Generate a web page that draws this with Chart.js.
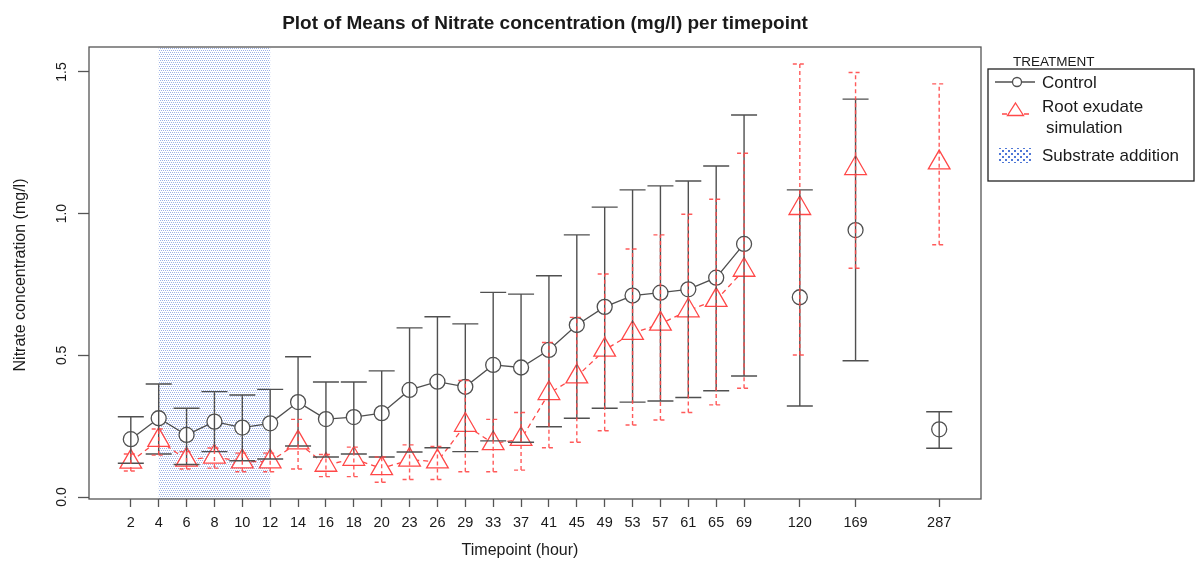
<!DOCTYPE html>
<html>
<head>
<meta charset="utf-8">
<script src="https://cdn.jsdelivr.net/npm/chart.js@4.4.1/dist/chart.umd.min.js"></script>
<style>
  html, body { margin: 0; padding: 0; background: #fff; }
  canvas { display: block; }
</style>
</head>
<body>
<canvas id="nitrateChart" width="1196" height="565"></canvas>
<script>
// x axis categories ('' = empty slot on the axis, as in the original plot)
const timepoints = [
  "", "2", "4", "6", "8", "10", "12", "14", "16", "18", "20", "23", "26", "29",
  "33", "37", "41", "45", "49", "53", "57", "61", "65", "69",
  "", "120", "", "169", "", "", "287", "",
];

// Control (circles)
const controlMean = [
  0.204, 0.278, 0.219, 0.266, 0.245, 0.26, 0.335, 0.275, 0.282, 0.296, 0.378,
  0.407, 0.389, 0.466, 0.457, 0.519, 0.607, 0.671, 0.711, 0.721, 0.733, 0.774,
  0.893, 0.705, 0.942, 0.239,
];
const controlUpper = [
  0.283, 0.399, 0.313, 0.372, 0.36, 0.38, 0.495, 0.406, 0.406, 0.445, 0.597,
  0.636, 0.611, 0.722, 0.716, 0.781, 0.925, 1.023, 1.084, 1.098, 1.115, 1.168,
  1.348, 1.084, 1.404, 0.301,
];
const controlLower = [
  0.119, 0.152, 0.115, 0.16, 0.128, 0.134, 0.18, 0.141, 0.152, 0.141, 0.159,
  0.174, 0.16, 0.198, 0.193, 0.248, 0.278, 0.313, 0.335, 0.339, 0.351, 0.375,
  0.427, 0.321, 0.481, 0.172,
];

// Root exudate simulation (triangles)
const rootMean = [
  0.124, 0.201, 0.131, 0.142, 0.125, 0.125, 0.192, 0.113, 0.134, 0.101, 0.131,
  0.125, 0.254, 0.189, 0.204, 0.366, 0.425, 0.519, 0.578, 0.611, 0.658, 0.695,
  0.801, 1.019, 1.16, 1.18,
];
const rootUpper = [
  0.152, 0.24, 0.16, 0.173, 0.155, 0.155, 0.274, 0.15, 0.176, 0.141, 0.184,
  0.178, 0.411, 0.274, 0.298, 0.545, 0.634, 0.787, 0.875, 0.925, 0.998, 1.051,
  1.213, 1.528, 1.498, 1.458,
];
const rootLower = [
  0.092, 0.148, 0.099, 0.102, 0.089, 0.089, 0.099, 0.072, 0.072, 0.052, 0.062,
  0.062, 0.089, 0.089, 0.095, 0.174, 0.193, 0.234, 0.254, 0.272, 0.298, 0.325,
  0.384, 0.501, 0.807, 0.89,
];

const yTicks = [0, 0.5, 1.0, 1.5];
const yTickLabels = ["0.0", "0.5", "1.0", "1.5"];

// Substrate addition period
const substrateStart = "4";
const substrateEnd = "12";

const FONT = "'Liberation Sans', Arial, sans-serif";
const BLACK = "#505050";
const RED = "#ff4848";

// spread the values over the category slots, leaving nulls in empty ones
function spread(values) {
  let k = 0;
  return timepoints.map((t) => (t === "" ? null : values[k++]));
}

function makePattern(size, dots, color) {
  const c = document.createElement("canvas");
  c.width = size;
  c.height = size;
  const g = c.getContext("2d");
  g.fillStyle = color;
  dots.forEach(([x, y, w, h]) => g.fillRect(x, y, w, h));
  return g.createPattern(c, "repeat");
}

const shadePattern = makePattern(
  4,
  [[0, 0, 1, 1], [2, 0, 1, 1], [1, 2, 1, 1], [3, 2, 1, 1]],
  "rgba(115,145,220,0.7)"
);
const legendPattern = makePattern(
  6,
  [[0, 0, 2, 2], [3, 3, 2, 2]],
  "rgb(80,120,215)"
);

// shaded substrate addition period
const substratePlugin = {
  id: "substrate",
  beforeDatasetsDraw(chart) {
    const { ctx, chartArea, scales } = chart;
    const x1 = scales.x.getPixelForValue(timepoints.indexOf(substrateStart));
    const x2 = scales.x.getPixelForValue(timepoints.indexOf(substrateEnd));
    ctx.save();
    ctx.fillStyle = shadePattern;
    ctx.fillRect(x1, chartArea.top, x2 - x1, chartArea.bottom - chartArea.top);
    ctx.restore();
  },
};

// error bars
const errorBarPlugin = {
  id: "errorBars",
  afterDatasetsDraw(chart) {
    const { ctx, scales } = chart;
    const drawBars = (upper, lower, color, cap, dash) => {
      const up = spread(upper);
      const lo = spread(lower);
      ctx.save();
      ctx.strokeStyle = color;
      ctx.lineWidth = 1.4;
      ctx.setLineDash(dash);
      up.forEach((u, i) => {
        if (u === null) return;
        const x = scales.x.getPixelForValue(i);
        const yu = scales.y.getPixelForValue(u);
        const yl = scales.y.getPixelForValue(lo[i]);
        ctx.beginPath();
        ctx.moveTo(x, yl);
        ctx.lineTo(x, yu);
        ctx.moveTo(x - cap, yu);
        ctx.lineTo(x + cap, yu);
        ctx.moveTo(x - cap, yl);
        ctx.lineTo(x + cap, yl);
        ctx.stroke();
      });
      ctx.restore();
    };
    drawBars(controlUpper, controlLower, BLACK, 13, []);
    drawBars(rootUpper, rootLower, "rgba(255,72,72,0.9)", 7, [4, 3]);
  },
};

// frame, rotated y labels, titles and legend
const framePlugin = {
  id: "frame",
  afterDraw(chart) {
    const { ctx, chartArea, scales } = chart;
    const { left, right, top, bottom } = chartArea;
    ctx.save();

    ctx.strokeStyle = "#555";
    ctx.lineWidth = 1.3;
    ctx.strokeRect(left, top, right - left, bottom - top);

    ctx.fillStyle = "#1a1a1a";
    ctx.textAlign = "center";
    ctx.textBaseline = "middle";

    // y tick labels
    ctx.font = "14px " + FONT;
    yTicks.forEach((v, i) => {
      const y = scales.y.getPixelForValue(v);
      ctx.save();
      ctx.translate(62, y);
      ctx.rotate(-Math.PI / 2);
      ctx.fillText(yTickLabels[i], 0, 0);
      ctx.restore();
    });

    // y axis title
    ctx.save();
    ctx.translate(21, (top + bottom) / 2 + 2);
    ctx.rotate(-Math.PI / 2);
    ctx.font = "16px " + FONT;
    ctx.fillText("Nitrate concentration (mg/l)", 0, 0);
    ctx.restore();

    // x axis title
    ctx.font = "16px " + FONT;
    ctx.fillText("Timepoint (hour)", (left + right) / 2 - 15, 551);

    // main title
    ctx.font = "bold 19px " + FONT;
    ctx.fillText(
      "Plot of Means of Nitrate concentration (mg/l) per timepoint",
      (left + right) / 2 + 10,
      24
    );

    // legend
    ctx.textAlign = "left";
    ctx.font = "13.5px " + FONT;
    ctx.fillText("TREATMENT", 1013, 62);

    ctx.strokeStyle = "#222";
    ctx.lineWidth = 1.3;
    ctx.strokeRect(988, 69, 206, 112);

    // Control
    ctx.strokeStyle = BLACK;
    ctx.lineWidth = 1.3;
    ctx.beginPath();
    ctx.moveTo(995, 82);
    ctx.lineTo(1012, 82);
    ctx.moveTo(1022, 82);
    ctx.lineTo(1035, 82);
    ctx.stroke();
    ctx.beginPath();
    ctx.arc(1017, 82, 4.5, 0, Math.PI * 2);
    ctx.stroke();

    // Root exudate
    ctx.strokeStyle = RED;
    ctx.beginPath();
    ctx.moveTo(1002, 114);
    ctx.lineTo(1007, 114);
    ctx.moveTo(1024, 114);
    ctx.lineTo(1029, 114);
    ctx.stroke();
    ctx.beginPath();
    ctx.moveTo(1015.5, 103);
    ctx.lineTo(1023.5, 115.5);
    ctx.lineTo(1007.5, 115.5);
    ctx.closePath();
    ctx.stroke();

    // Substrate addition
    ctx.fillStyle = legendPattern;
    ctx.fillRect(999, 148, 32, 15);

    ctx.fillStyle = "#1a1a1a";
    ctx.font = "17px " + FONT;
    ctx.fillText("Control", 1042, 83);
    ctx.fillText("Root exudate", 1042, 107);
    ctx.fillText("simulation", 1046, 128);
    ctx.fillText("Substrate addition", 1042, 156);

    ctx.restore();
  },
};

const chartCtx = document.getElementById("nitrateChart").getContext("2d");
new Chart(chartCtx, {
  type: "line",
  data: {
    labels: timepoints,
    datasets: [
      {
        label: "Control",
        data: spread(controlMean),
        borderColor: BLACK,
        borderWidth: 1.3,
        tension: 0,
        spanGaps: false,
        pointStyle: "circle",
        pointRadius: 7.5,
        pointBorderWidth: 1.3,
        pointBorderColor: BLACK,
        pointBackgroundColor: "#fff",
      },
      {
        label: "Root exudate simulation",
        data: spread(rootMean),
        borderColor: RED,
        borderWidth: 1.3,
        borderDash: [5, 4],
        tension: 0,
        spanGaps: false,
        pointStyle: "triangle",
        pointRadius: 12.5,
        pointBorderWidth: 1.3,
        pointBorderColor: RED,
        pointBackgroundColor: "#fff",
      },
    ],
  },
  options: {
    responsive: false,
    animation: false,
    devicePixelRatio: 1,
    layout: { padding: { top: 47, right: 215, left: 0, bottom: 0 } },
    plugins: {
      legend: { display: false },
      tooltip: { enabled: false },
    },
    scales: {
      x: {
        type: "category",
        offset: true,
        border: { display: false },
        grid: {
          drawOnChartArea: false,
          drawTicks: true,
          tickLength: 8,
          tickWidth: 1.3,
          tickColor: (c) =>
            timepoints[c.index] === "" ? "rgba(0,0,0,0)" : "#555",
        },
        ticks: {
          autoSkip: false,
          maxRotation: 0,
          minRotation: 0,
          padding: 7,
          color: "#1a1a1a",
          font: { family: FONT, size: 14.5 },
        },
        afterFit: (s) => {
          s.height = 66;
        },
      },
      y: {
        min: -0.007,
        max: 1.588,
        border: { display: false },
        afterBuildTicks: (s) => {
          s.ticks = yTicks.map((v) => ({ value: v }));
        },
        grid: {
          drawOnChartArea: false,
          drawTicks: true,
          tickLength: 11,
          tickWidth: 1.3,
          tickColor: "#555",
        },
        ticks: {
          color: "rgba(0,0,0,0)",
          callback: () => "",
        },
        afterFit: (s) => {
          s.width = 89;
        },
      },
    },
  },
  plugins: [substratePlugin, errorBarPlugin, framePlugin],
});
</script>
</body>
</html>
